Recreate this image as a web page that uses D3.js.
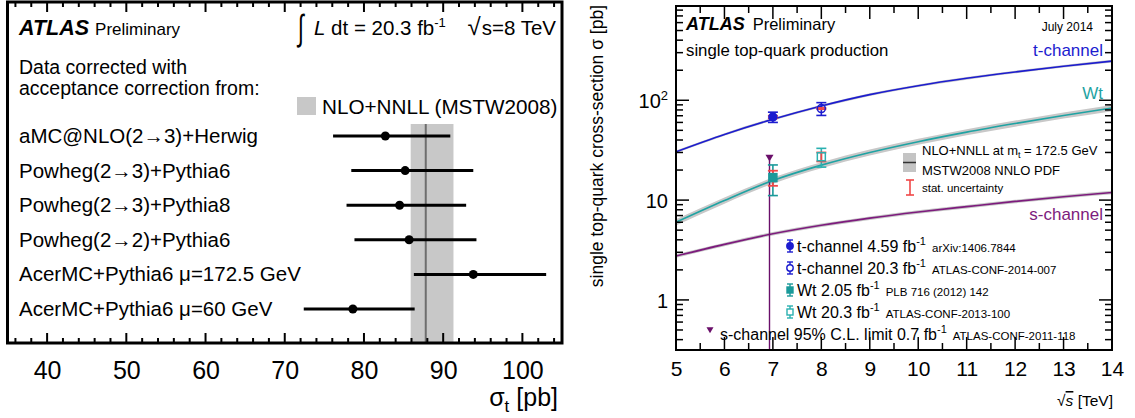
<!DOCTYPE html>
<html>
<head>
<meta charset="utf-8">
<script src="https://cdn.jsdelivr.net/npm/d3@7"></script>
<style>
  body { margin: 0; background: #fff; }
  svg { display: block; font-family: "Liberation Sans", Arial, Helvetica, sans-serif; }
</style>
</head>
<body>
<svg id="chart" width="1135" height="418"></svg>
<script>
// ---------- Left panel: t-channel cross-section per acceptance model ----------
const generators = [
  "aMC@NLO(2→3)+Herwig",
  "Powheg(2→3)+Pythia6",
  "Powheg(2→3)+Pythia8",
  "Powheg(2→2)+Pythia6",
  "AcerMC+Pythia6 μ=172.5 GeV",
  "AcerMC+Pythia6 μ=60 GeV"
];
const sigmaCentral = [82.7, 85.2, 84.5, 85.7, 93.8, 78.6];
const sigmaLow     = [76.1, 78.4, 77.8, 78.8, 86.3, 72.4];
const sigmaHigh    = [90.9, 93.8, 92.9, 94.2, 103.0, 86.4];
const theoryCentral = 87.8;
const theoryBand = [85.9, 91.3];
const sigmaTicks = [40, 50, 60, 70, 80, 90, 100];

// ---------- Right panel: single top cross-section vs sqrt(s) ----------
const energies  = [5, 6, 7, 8, 9, 10, 11, 12, 13, 14];
const tChannel  = [30.5, 45.5, 64.6, 87.8, 114, 140, 166, 192, 219, 247];
const wtChannel = [6.0, 9.9, 15.7, 22.4, 30.0, 38.5, 48.0, 58.5, 70.5, 83.6];
const sChannel  = [2.75, 3.6, 4.6, 5.6, 6.6, 7.6, 8.6, 9.7, 10.8, 11.9];
const tRelUnc = 0.03, wtRelUnc = 0.07, sRelUnc = 0.04;

const measNames   = ["t-channel 4.59 fb", "t-channel 20.3 fb", "Wt 2.05 fb", "Wt 20.3 fb"];
const measRefs    = ["arXiv:1406.7844", "ATLAS-CONF-2014-007", "PLB 716 (2012) 142", "ATLAS-CONF-2013-100"];
const measEnergy  = [7, 8, 7, 8];
const measValue   = [68.0, 82.6, 16.8, 27.2];
const measTotErr  = [8.0, 12.1, 5.7, 5.8];
const measStatErr = [2.0, 1.2, 2.9, 2.8];
const sLimitEnergy = 6.93;
const sLimitValue = 26.5;
const energyTicks = [5, 6, 7, 8, 9, 10, 11, 12, 13, 14];
const xsecTicks = [1, 10, 100];

const svg = d3.select("#chart");
const FONT = '"Liberation Sans", Arial, Helvetica, sans-serif';

// ===================== LEFT PANEL =====================
const L = { left: 7.5, right: 562, top: 2, bottom: 343 };
const xL = d3.scaleLinear().domain([35, 105]).range([L.left, L.right]);
const yL = d3.scalePoint().domain(generators).range([136, 309]);

const gl = svg.append("g");

// theory band and central line
gl.append("rect")
  .attr("x", xL(theoryBand[0])).attr("width", xL(theoryBand[1]) - xL(theoryBand[0]))
  .attr("y", 124).attr("height", L.bottom - 124)
  .attr("fill", "#c8c8c8");
gl.append("line")
  .attr("x1", xL(theoryCentral)).attr("x2", xL(theoryCentral))
  .attr("y1", 124).attr("y2", L.bottom)
  .attr("stroke", "#6e6e6e").attr("stroke-width", 2);

// measurement rows
generators.forEach((g, i) => {
  const y = yL(g);
  gl.append("line")
    .attr("x1", xL(sigmaLow[i])).attr("x2", xL(sigmaHigh[i]))
    .attr("y1", y).attr("y2", y)
    .attr("stroke", "#000").attr("stroke-width", 3);
  gl.append("circle")
    .attr("cx", xL(sigmaCentral[i])).attr("cy", y).attr("r", 4.5)
    .attr("fill", "#000");
  gl.append("text").attr("x", 19).attr("y", y + 7).attr("font-size", 20.5).text(g);
});

// frame
gl.append("rect")
  .attr("x", L.left).attr("y", L.top)
  .attr("width", L.right - L.left).attr("height", L.bottom - L.top)
  .attr("fill", "none").attr("stroke", "#000").attr("stroke-width", 3);

// ticks top & bottom
d3.range(36, 105, 2).forEach(v => {
  const major = v % 10 === 0;
  const len = major ? 10 : 5;
  const x = xL(v);
  gl.append("line").attr("x1", x).attr("x2", x).attr("y1", L.bottom).attr("y2", L.bottom - len)
    .attr("stroke", "#000").attr("stroke-width", 2);
  gl.append("line").attr("x1", x).attr("x2", x).attr("y1", L.top).attr("y2", L.top + len)
    .attr("stroke", "#000").attr("stroke-width", 2);
});
const axL = d3.axisBottom(xL).tickValues(sigmaTicks).tickSize(0).tickPadding(0);
const axLg = gl.append("g").attr("transform", `translate(0,${L.bottom})`).call(axL);
axLg.select(".domain").remove();
axLg.selectAll("text").attr("font-size", 25).attr("font-family", FONT).attr("fill", "#000")
  .attr("dy", null).attr("y", 36);

// axis title sigma_t [pb]
const tL = gl.append("text").attr("x", 558).attr("y", 406).attr("text-anchor", "end").attr("font-size", 25);
tL.append("tspan").text("σ");
tL.append("tspan").attr("font-size", 17).attr("dy", 6).text("t");
tL.append("tspan").attr("dy", -6).text(" [pb]");

// labels
const atlasL = gl.append("text").attr("x", 19).attr("y", 35);
atlasL.append("tspan").attr("font-weight", "bold").attr("font-style", "italic").attr("font-size", 21.5).text("ATLAS");
atlasL.append("tspan").attr("font-size", 17).attr("dx", 6).text("Preliminary");

gl.append("text").attr("x", 298).attr("y", 40).attr("font-size", 36)
  .attr("transform", "translate(298,40) scale(0.6,1) translate(-298,-40)").text("∫");
const lumi = gl.append("text").attr("x", 314).attr("y", 35).attr("font-size", 20.5);
lumi.append("tspan").attr("font-style", "italic").text("L");
lumi.append("tspan").text(" dt = 20.3 fb");
lumi.append("tspan").attr("font-size", 13).attr("dy", -8).text("-1");
const rs = gl.append("text").attr("x", 556).attr("y", 35).attr("text-anchor", "end").attr("font-size", 20.5);
rs.append("tspan").attr("font-size", 24).text("√");
rs.append("tspan").attr("dx", 1).text("s=8 TeV");

gl.append("text").attr("x", 19).attr("y", 74).attr("font-size", 19.5).text("Data corrected with");
gl.append("text").attr("x", 19).attr("y", 95).attr("font-size", 19.5).text("acceptance correction from:");

gl.append("rect").attr("x", 297).attr("y", 97).attr("width", 19).attr("height", 18).attr("fill", "#c8c8c8");
gl.append("text").attr("x", 322).attr("y", 114).attr("font-size", 20.7).text("NLO+NNLL (MSTW2008)");

// ===================== RIGHT PANEL =====================
const R = { left: 676, right: 1112, top: 6, bottom: 350 };
const xR = d3.scaleLinear().domain([5, 14]).range([R.left, R.right]);
const yR = d3.scaleLog().domain([0.315, 880]).range([R.bottom, R.top]);

const gr = svg.append("g");
const clip = svg.append("defs").append("clipPath").attr("id", "plotclip");
clip.append("rect").attr("x", R.left).attr("y", R.top).attr("width", R.right - R.left).attr("height", R.bottom - R.top);
const plot = gr.append("g").attr("clip-path", "url(#plotclip)");

const channels = [
  { vals: tChannel,  unc: tRelUnc,  color: "#1c1ccf" },
  { vals: wtChannel, unc: wtRelUnc, color: "#1fa3a3" },
  { vals: sChannel,  unc: sRelUnc,  color: "#7d1b7d" }
];
channels.forEach(c => {
  const area = d3.area().curve(d3.curveMonotoneX)
    .x((d, i) => xR(energies[i]))
    .y0((d, i) => yR(c.vals[i] * (1 - c.unc)))
    .y1((d, i) => yR(c.vals[i] * (1 + c.unc)));
  plot.append("path").datum(c.vals).attr("d", area).attr("fill", "#c8c8c8");
  const line = d3.line().curve(d3.curveMonotoneX)
    .x((d, i) => xR(energies[i])).y(d => yR(d));
  plot.append("path").datum(c.vals).attr("d", line)
    .attr("fill", "none").attr("stroke", c.color).attr("stroke-width", 1.6);
});

// s-channel limit
plot.append("line")
  .attr("x1", xR(sLimitEnergy)).attr("x2", xR(sLimitEnergy))
  .attr("y1", yR(sLimitValue)).attr("y2", R.bottom)
  .attr("stroke", "#6a0f6a").attr("stroke-width", 1.4);
const tri = (cx, cy, s) => `M${cx - s},${cy - s * 0.8}L${cx + s},${cy - s * 0.8}L${cx},${cy + s * 0.9}Z`;
plot.append("path").attr("d", tri(xR(sLimitEnergy), yR(sLimitValue), 4)).attr("fill", "#6a0f6a");

// error bar drawing helper
function errBar(g, x, ylo, yhi, color, cap, w) {
  g.append("line").attr("x1", x).attr("x2", x).attr("y1", ylo).attr("y2", yhi).attr("stroke", color).attr("stroke-width", w);
  g.append("line").attr("x1", x - cap).attr("x2", x + cap).attr("y1", ylo).attr("y2", ylo).attr("stroke", color).attr("stroke-width", w);
  g.append("line").attr("x1", x - cap).attr("x2", x + cap).attr("y1", yhi).attr("y2", yhi).attr("stroke", color).attr("stroke-width", w);
}
const measColor = ["#1c1ccf", "#1c1ccf", "#1a9a9a", "#2ab0b0"];
const statColor = "#f04848";
measValue.forEach((v, i) => {
  const x = xR(measEnergy[i]);
  errBar(plot, x, yR(v - measTotErr[i]), yR(v + measTotErr[i]), measColor[i], 5, 1.6);
  errBar(plot, x, yR(v - measStatErr[i]), yR(v + measStatErr[i]), statColor, 5, 1.8);
  const y = yR(v);
  const filled = i % 2 === 0;
  if (i < 2) {
    plot.append("circle").attr("cx", x).attr("cy", y).attr("r", 4)
      .attr("fill", filled ? measColor[i] : "none").attr("stroke", measColor[i]).attr("stroke-width", 1.5);
  } else {
    plot.append("rect").attr("x", x - 4).attr("y", y - 4).attr("width", 8).attr("height", 8)
      .attr("fill", filled ? measColor[i] : "none").attr("stroke", measColor[i]).attr("stroke-width", 1.5);
  }
});

// frame
gr.append("rect")
  .attr("x", R.left).attr("y", R.top).attr("width", R.right - R.left).attr("height", R.bottom - R.top)
  .attr("fill", "none").attr("stroke", "#000").attr("stroke-width", 2);

// x ticks on bottom and top
d3.range(5, 14.01, 0.5).forEach(v => {
  const major = Number.isInteger(v);
  const len = major ? 13 : 7;
  const x = xR(v);
  gr.append("line").attr("x1", x).attr("x2", x).attr("y1", R.bottom).attr("y2", R.bottom - len).attr("stroke", "#000").attr("stroke-width", 1.5);
  gr.append("line").attr("x1", x).attr("x2", x).attr("y1", R.top).attr("y2", R.top + len).attr("stroke", "#000").attr("stroke-width", 1.5);
});
// y ticks on left and right (log minors)
const yTickVals = [];
[0.1, 1, 10, 100].forEach(dec => { for (let k = 1; k <= 9; k++) yTickVals.push(dec * k); });
yTickVals.filter(v => v >= 0.315 && v <= 880).forEach(v => {
  const major = xsecTicks.includes(Math.round(v * 1000) / 1000);
  const len = major ? 13 : 7;
  const y = yR(v);
  gr.append("line").attr("x1", R.left).attr("x2", R.left + len).attr("y1", y).attr("y2", y).attr("stroke", "#000").attr("stroke-width", 1.5);
  gr.append("line").attr("x1", R.right).attr("x2", R.right - len).attr("y1", y).attr("y2", y).attr("stroke", "#000").attr("stroke-width", 1.5);
});

const axRx = d3.axisBottom(xR).tickValues(energyTicks).tickSize(0).tickFormat(d3.format("d"));
const axRxg = gr.append("g").attr("transform", `translate(0,${R.bottom})`).call(axRx);
axRxg.select(".domain").remove();
axRxg.selectAll("text").attr("font-size", 21).attr("font-family", FONT).attr("fill", "#000").attr("dy", null).attr("y", 26);

const axRy = d3.axisLeft(yR).tickValues(xsecTicks).tickSize(0).tickFormat(() => "");
const axRyg = gr.append("g").attr("transform", `translate(${R.left},0)`).call(axRy);
axRyg.select(".domain").remove();
axRyg.selectAll(".tick text").each(function (d) {
  const t = d3.select(this).attr("font-size", 20).attr("font-family", FONT).attr("fill", "#000")
    .attr("x", -8).attr("dy", "0.36em").text(null);
  if (d === 100) {
    t.append("tspan").text("10");
    t.append("tspan").attr("font-size", 13).attr("dy", -8).text("2");
  } else {
    t.text(d3.format("d")(d));
  }
});

// axis titles
const xt = gr.append("text").attr("x", 1113).attr("y", 406).attr("text-anchor", "end").attr("font-size", 15.5);
xt.append("tspan").text("√");
xt.append("tspan").attr("font-style", "italic").attr("text-decoration", "overline").text("s");
xt.append("tspan").text(" [TeV]");
gr.append("text").attr("transform", "translate(603,5) rotate(-90)").attr("text-anchor", "end")
  .attr("font-size", 17.5).text("single top-quark cross-section σ [pb]");

// header labels
const atlasR = gr.append("text").attr("x", 686).attr("y", 30);
atlasR.append("tspan").attr("font-weight", "bold").attr("font-style", "italic").attr("font-size", 18).text("ATLAS");
atlasR.append("tspan").attr("font-size", 16.5).attr("dx", 8).text("Preliminary");
gr.append("text").attr("x", 1093).attr("y", 31).attr("text-anchor", "end").attr("font-size", 12).text("July 2014");
gr.append("text").attr("x", 686).attr("y", 56).attr("font-size", 16.8).text("single top-quark production");

gr.append("text").attr("x", 1103).attr("y", 56).attr("text-anchor", "end").attr("font-size", 17).attr("fill", "#1c1ccf").text("t-channel");
gr.append("text").attr("x", 1103).attr("y", 99).attr("text-anchor", "end").attr("font-size", 17).attr("fill", "#1fa3a3").text("Wt");
gr.append("text").attr("x", 1103).attr("y", 220).attr("text-anchor", "end").attr("font-size", 17).attr("fill", "#7d1b7d").text("s-channel");

// theory legend
gr.append("rect").attr("x", 903).attr("y", 153).attr("width", 13).attr("height", 19).attr("fill", "#c4c4c4");
gr.append("line").attr("x1", 903).attr("x2", 916).attr("y1", 162.5).attr("y2", 162.5).attr("stroke", "#333").attr("stroke-width", 1.5);
const th1 = gr.append("text").attr("x", 922).attr("y", 155).attr("font-size", 13);
th1.append("tspan").text("NLO+NNLL at m");
th1.append("tspan").attr("font-size", 9).attr("dy", 3).text("t");
th1.append("tspan").attr("dy", -3).text(" = 172.5 GeV");
gr.append("text").attr("x", 922).attr("y", 175).attr("font-size", 13).text("MSTW2008 NNLO PDF");
errBar(gr, 910, 180, 195, statColor, 4, 1.6);
gr.append("text").attr("x", 922).attr("y", 192).attr("font-size", 11.5).text("stat. uncertainty");

// measurement legend
const legY = [246, 268, 290, 312];
measNames.forEach((name, i) => {
  const x = 790, y = legY[i];
  errBar(gr, x, y - 6, y + 6, measColor[i], 3, 1.4);
  if (i < 2) {
    gr.append("circle").attr("cx", x).attr("cy", y).attr("r", 3.2)
      .attr("fill", i % 2 === 0 ? measColor[i] : "#fff").attr("stroke", measColor[i]).attr("stroke-width", 1.4);
  } else {
    gr.append("rect").attr("x", x - 3).attr("y", y - 3).attr("width", 6).attr("height", 6)
      .attr("fill", i % 2 === 0 ? measColor[i] : "#fff").attr("stroke", measColor[i]).attr("stroke-width", 1.4);
  }
  const t = gr.append("text").attr("x", 797).attr("y", y + 6).attr("font-size", 16);
  t.append("tspan").text(name);
  t.append("tspan").attr("font-size", 11).attr("dy", -7).text("-1");
  t.append("tspan").attr("font-size", 11.5).attr("dy", 7).attr("dx", 6).text(measRefs[i]);
});
gr.append("path").attr("d", tri(710, 330, 3.5)).attr("fill", "#6a0f6a");
const sl = gr.append("text").attr("x", 720).attr("y", 340).attr("font-size", 16);
sl.append("tspan").text("s-channel 95% C.L. limit 0.7 fb");
sl.append("tspan").attr("font-size", 11).attr("dy", -7).text("-1");
sl.append("tspan").attr("font-size", 11.5).attr("dy", 7).attr("dx", 6).text("ATLAS-CONF-2011-118");
</script>
</body>
</html>
